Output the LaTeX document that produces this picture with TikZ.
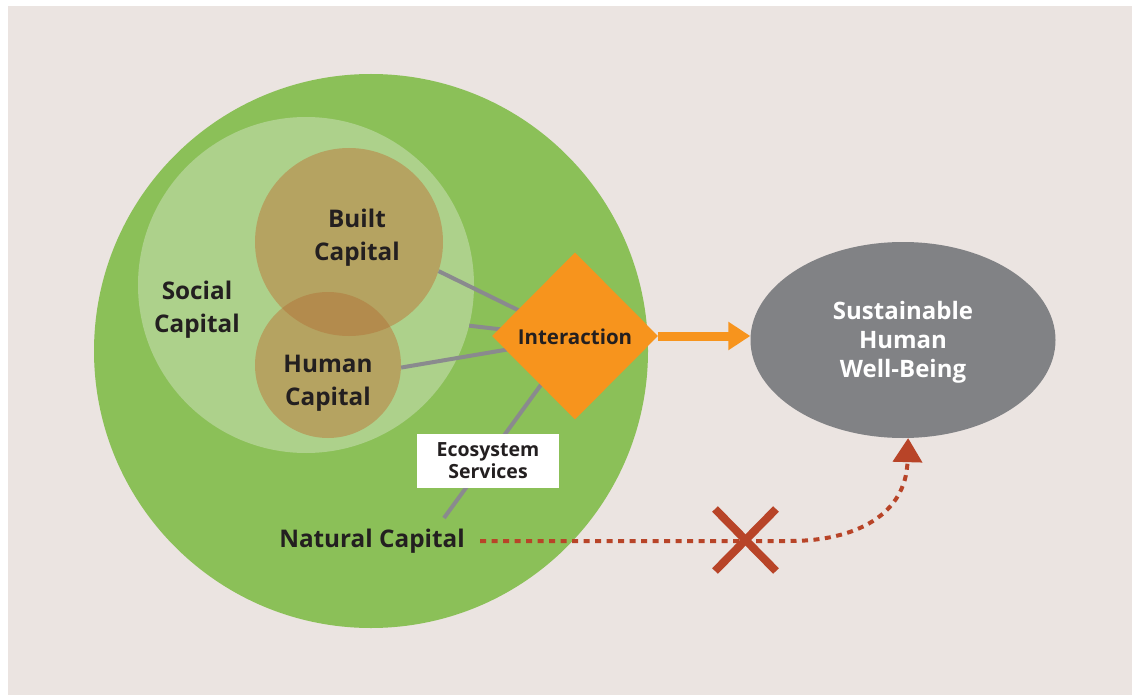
\documentclass[tikz,border=0pt]{standalone}
\usepackage{fontspec}
\setmainfont{Open Sans}
\usetikzlibrary{shapes.geometric,arrows.meta}
\definecolor{bgc}{RGB}{235,228,225}
\definecolor{natgreen}{RGB}{139,192,88}
\definecolor{socgreen}{RGB}{173,209,139}
\definecolor{brownc}{RGB}{181,163,97}
\definecolor{overlapc}{RGB}{179,139,77}
\definecolor{orangec}{RGB}{247,148,29}
\definecolor{greyc}{RGB}{129,130,133}
\definecolor{linec}{RGB}{138,138,142}
\definecolor{redc}{RGB}{184,68,40}
\definecolor{txt}{RGB}{35,31,32}
\tikzset{
  disc/.style={circle,inner sep=0pt,minimum size=#1},
  lbl/.style={font=\bfseries\fontsize{24.3}{33}\selectfont,text=txt,align=center,inner sep=0pt},
  link/.style={draw=linec,line width=4pt},
}
\begin{document}
\begin{tikzpicture}[x=1pt,y=-1pt]
\useasboundingbox (0,0) rectangle (1132,695);
\fill[white] (0,0) rectangle (1132,695);
\fill[bgc] (8,6) rectangle (1132,695);
% circles
\node[disc=554pt,fill=natgreen] (natc) at (371,351) {};
\node[disc=336pt,fill=socgreen] (social) at (306,285) {};
\node[disc=188pt,fill=brownc] (built) at (349,242) {};
\node[disc=146pt,fill=brownc] (human) at (328,365) {};
\begin{scope}
  \clip (349,242) circle (94);
  \fill[overlapc] (328,365) circle (73);
\end{scope}
% labels
\node[lbl] (builtt) at (357,238) {Built\\Capital};
\node[lbl] (socialt) at (197,310) {Social\\Capital};
\node[lbl] (humant) at (328,383) {Human\\Capital};
\node[lbl] (nat) at (372,541) {Natural Capital};
\coordinate (nc) at (444,518);
% diamond
\coordinate (ic) at (575,338);
\draw[link] (built.-18) -- (ic);
\draw[link] (social.-14) -- (ic);
\draw[link] (human.-2) -- (ic);
\draw[link] (nc) -- (ic);
\node[diamond,fill=orangec,minimum width=166pt,minimum height=167pt,inner sep=0pt] (inter) at (575,336) {};
\node[font=\bfseries\fontsize{20.5}{24}\selectfont,text=txt] (intert) at (575,337) {Interaction};
% ecosystem box
\node[fill=white,minimum width=142pt,minimum height=54pt,inner sep=0pt,align=center,
      font=\bfseries\fontsize{19.5}{22}\selectfont,text=txt] (eco) at (488,461) {Ecosystem\\Services};
% well-being
\node[ellipse,fill=greyc,minimum width=305pt,minimum height=196pt,inner sep=0pt] (well) at (903,340) {};
\node[font=\bfseries\fontsize{24}{29}\selectfont,text=white,align=center] (wellt) at (903,342) {Sustainable\\Human\\Well-Being};
% orange arrow
\draw[orangec,line width=9pt,-{Triangle[length=22pt,width=27pt]}] (inter.east) -- (inter.east -| well.west);
% red dashed
\coordinate (rs) at (480,541);
\draw[redc,line width=4pt,dash pattern=on 6pt off 5.5pt,-{Triangle[length=24pt,width=29pt]}]
  (rs) -- (790,541) .. controls (855,541) and (906,515) .. (well.-87);
\coordinate (xc) at (745,540);
\draw[redc,line width=8pt] ([shift={(-30,-31)}]xc) -- ([shift={(31,31)}]xc);
\draw[redc,line width=8pt] ([shift={(-30,31)}]xc) -- ([shift={(31,-31)}]xc);
\end{tikzpicture}
\end{document}
